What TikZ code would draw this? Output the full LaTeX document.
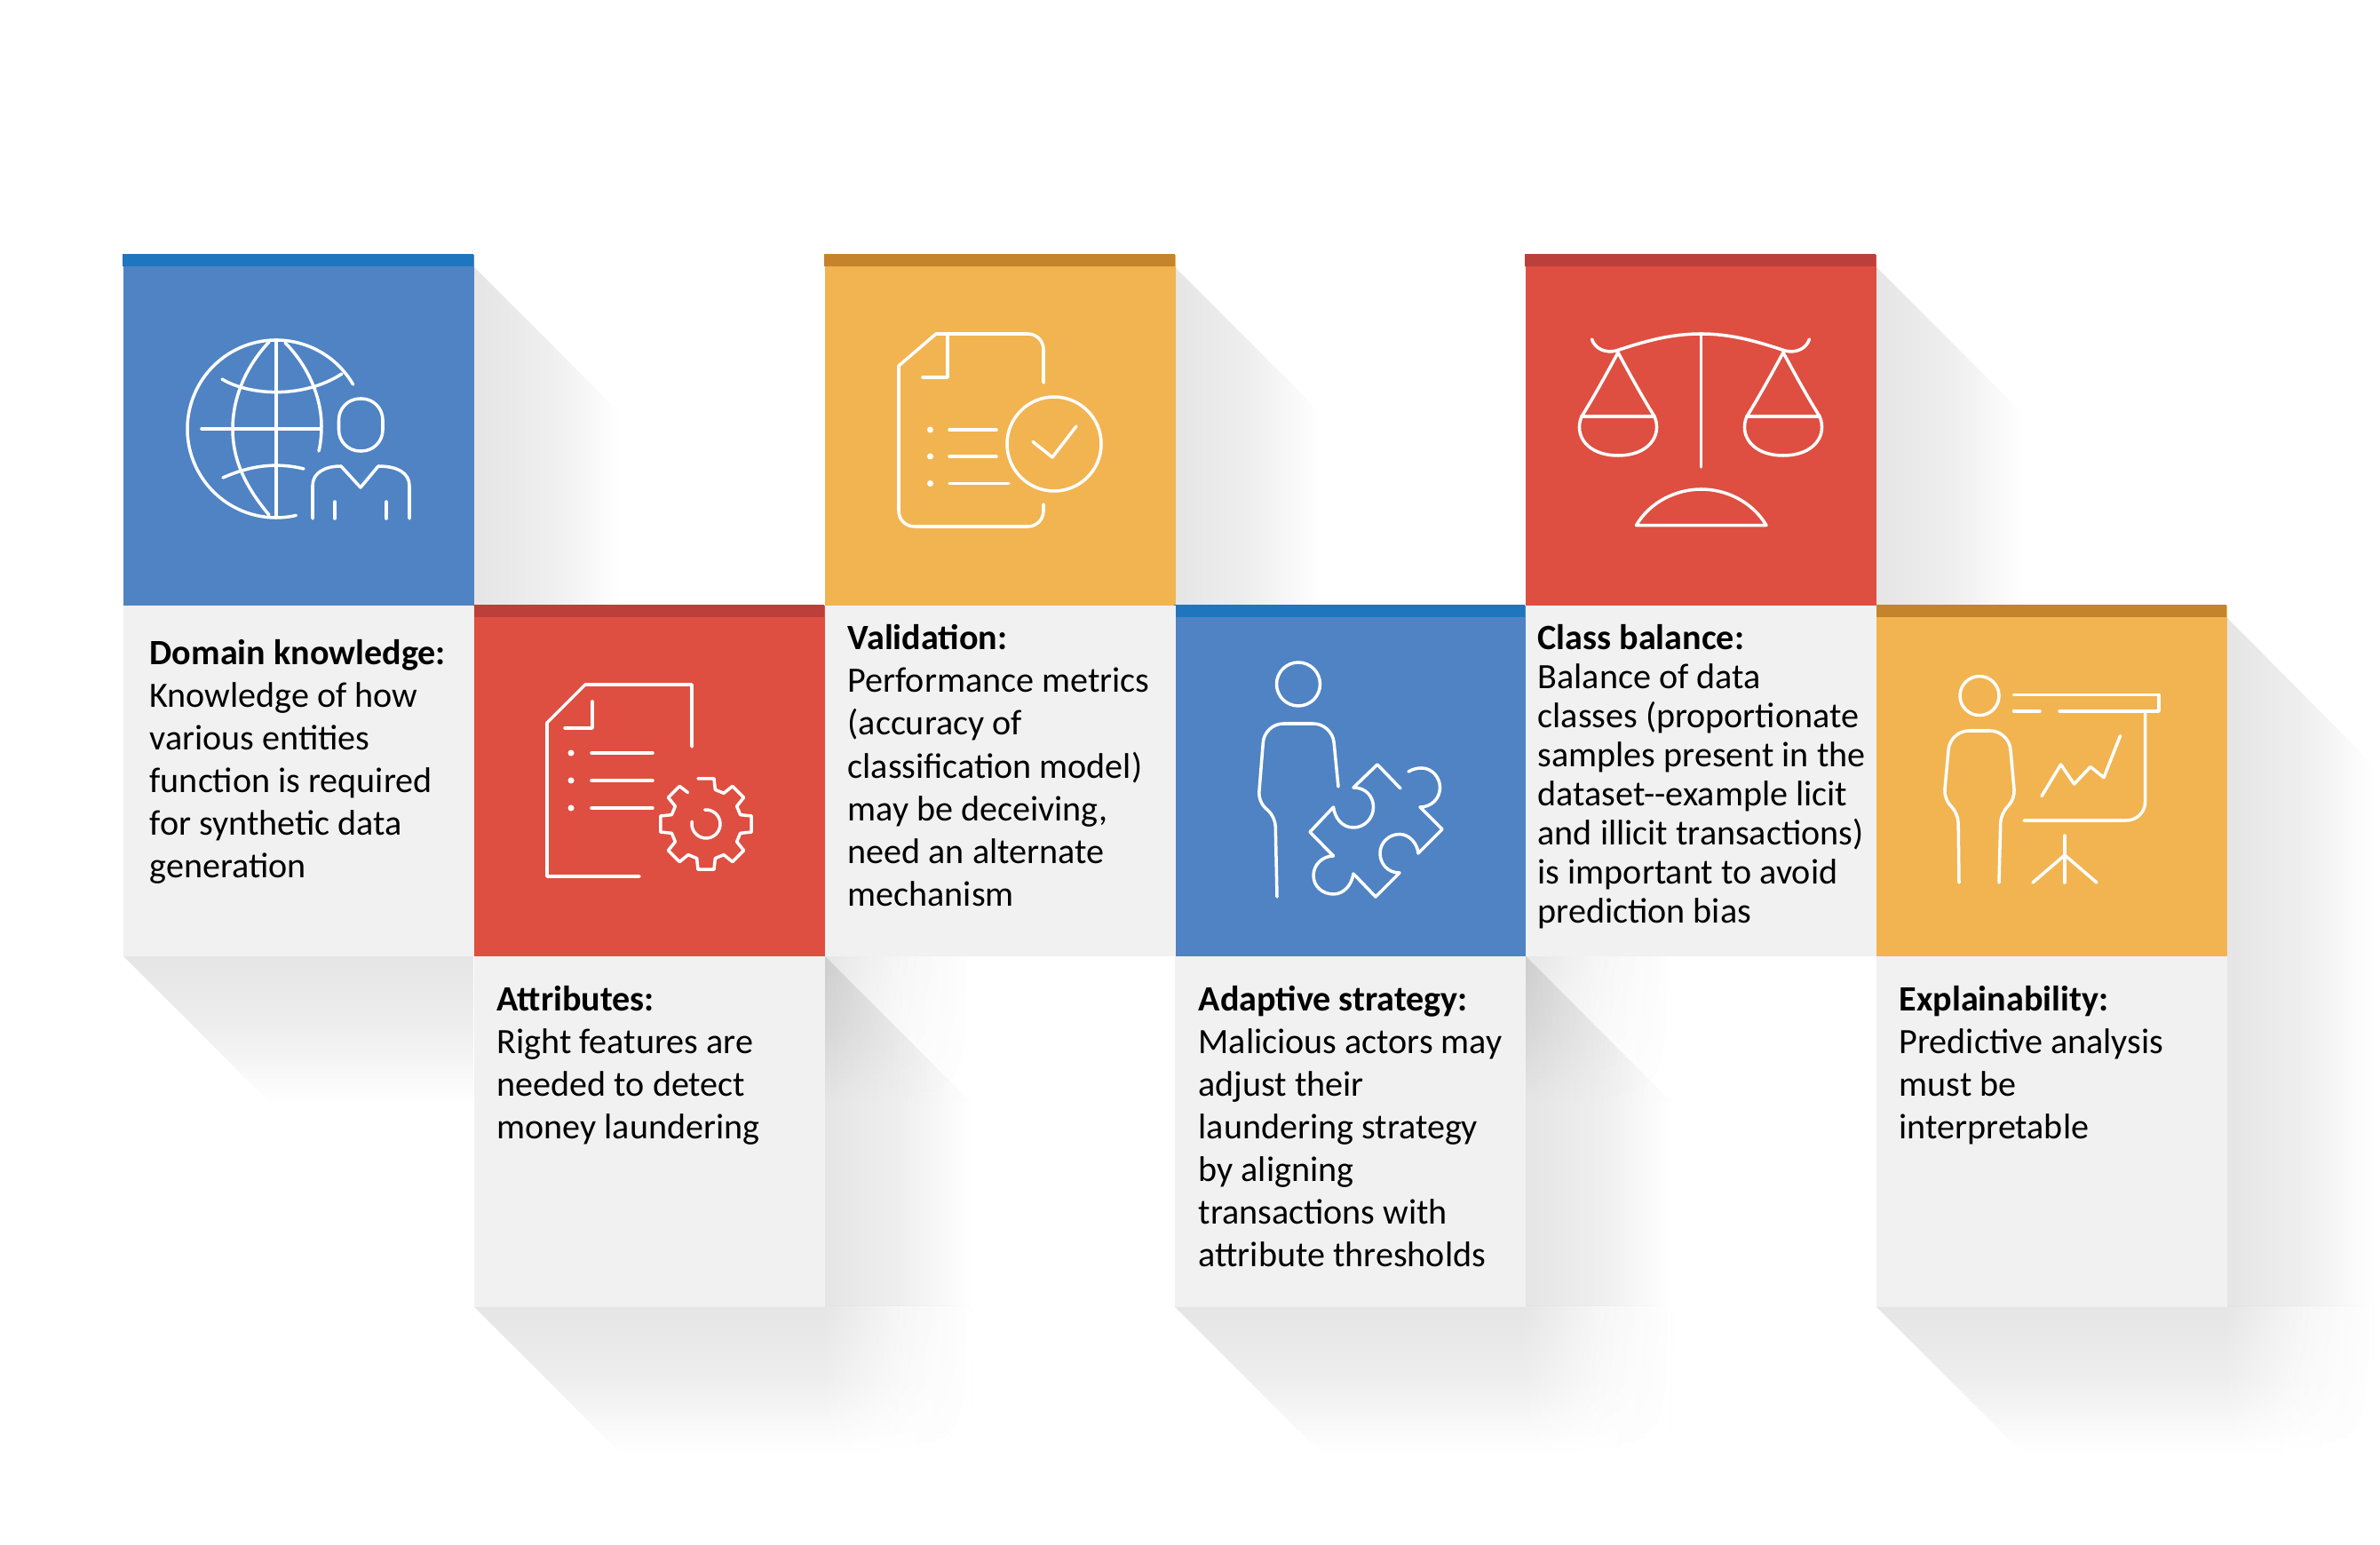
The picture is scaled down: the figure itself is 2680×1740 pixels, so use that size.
\documentclass[tikz,border=0pt]{standalone}
\usepackage{fontspec}
\setmainfont{Carlito}
\usetikzlibrary{fadings}
\definecolor{blueTile}{HTML}{4F83C4}
\definecolor{blueStrip}{HTML}{1F76BF}
\definecolor{redTile}{HTML}{DE4F41}
\definecolor{redStrip}{HTML}{BC3F3B}
\definecolor{yellowTile}{HTML}{F1B451}
\definecolor{yellowStrip}{HTML}{C5832B}
\definecolor{boxcol}{HTML}{F1F1F1}
\definecolor{rampMid}{gray}{0.65}
\pgfdeclarehorizontalshading{rampE}{100bp}{color(0bp)=(white); color(25bp)=(white); color(50bp)=(rampMid); color(75bp)=(black); color(100bp)=(black)}
\pgfdeclarehorizontalshading{rampW}{100bp}{color(0bp)=(black); color(25bp)=(black); color(50bp)=(rampMid); color(75bp)=(white); color(100bp)=(white)}
\pgfdeclareverticalshading{rampS}{100bp}{color(0bp)=(black); color(25bp)=(black); color(50bp)=(rampMid); color(75bp)=(white); color(100bp)=(white)}
\pgfdeclarefading{fadeE}{\pgfuseshading{rampE}}
\pgfdeclarefading{fadeW}{\pgfuseshading{rampW}}
\pgfdeclarefading{fadeS}{\pgfuseshading{rampS}}
\tikzstyle{tile}=[rectangle,minimum size=3.95cm,inner sep=0,anchor=north west]
\tikzstyle{info box}=[tile,fill=boxcol]
\tikzstyle{shadow east}=[black,fill opacity=0.1,path fading=fadeE]
\tikzstyle{shadow south}=[black,fill opacity=0.1,path fading=fadeS]
\tikzstyle{shadow cover}=[white,path fading=fadeE]
\tikzstyle{icon}=[white,line width=1pt,line cap=round,line join=round]
\tikzstyle{info}=[inner sep=0,anchor=north west,align=left,text=black,
font=\fontsize{11.4}{13.66}\selectfont]
\tikzstyle{info tight}=[info,font=\fontsize{11.4}{12.5}\selectfont]
\begin{document}
\begin{tikzpicture}[x=0.01cm,y=0.01cm]
  \useasboundingbox (0,0) rectangle (2680,-1740);
  \def\D{165}

  % SHADOWS
  \foreach \X in {533,1322,2112}{
    \fill[shadow east] (\X,-300) --++ (\D,-\D) -- (\X+\D,-681) -- (\X,-681) -- cycle;
  }
  \fill[shadow south] (138,-1076) --++ (\D,-\D) -- (533,-1241) -- (533,-1076) -- cycle;
  \foreach \X in {928,1717}{
    \fill[shadow south,path fading=fadeS] (\X,-1076) rectangle (\X+\D,-1241);
    \fill[white,path fading=fadeW] (\X,-1076) rectangle (\X+\D,-1241);
  }
  \foreach \X in {533,1322,2112}{
    \fill[shadow south] (\X,-1471) --++ (\D,-\D) -- (\X+395+\D,-1636) -- (\X+395+\D,-1471) -- cycle;
    \fill[white,path fading=fadeW] (\X+395,-1471) rectangle (\X+395+\D,-1637);
  }
  \foreach \X in {928,1717}{
    \fill[shadow east] (\X,-1076) --++ (\D,-\D) -- (\X+\D,-1471) -- (\X,-1471) -- cycle;
  }
  \fill[shadow east] (2507,-695) -- (2672,-861) -- (2672,-1471) -- (2507,-1471) -- cycle;

  % TILES
  \node[tile,fill=blueTile] (domainTile) at (138,-286) {};
  \node[tile,fill=yellowTile] (validTile) at (928,-286) {};
  \node[tile,fill=redTile] (classTile) at (1717,-286) {};
  \node[tile,fill=redTile] (attrTile) at (533,-681) {};
  \node[tile,fill=blueTile] (adaptTile) at (1322,-681) {};
  \node[tile,fill=yellowTile] (explainTile) at (2112,-681) {};
  \fill[blueStrip] (domainTile.north west) rectangle ++(395,-14);
  \fill[yellowStrip] (validTile.north west) rectangle ++(395,-14);
  \fill[redStrip] (classTile.north west) rectangle ++(395,-14);
  \fill[redStrip] (attrTile.north west) rectangle ++(395,-14);
  \fill[blueStrip] (adaptTile.north west) rectangle ++(395,-14);
  \fill[yellowStrip] (explainTile.north west) rectangle ++(395,-14);

  % BOXES
  \node[info box] (domainBox) at (138,-681) {};
  \node[info box] (validBox) at (928,-681) {};
  \node[info box] (classBox) at (1717,-681) {};
  \node[info box] (attrBox) at (533,-1076) {};
  \node[info box] (adaptBox) at (1322,-1076) {};
  \node[info box] (explainBox) at (2112,-1076) {};

  % TEXTS
  \node[info] (domainText) at (168,-719.5) {\textbf{Domain knowledge:}\\Knowledge of how\\various entities\\function is required\\for synthetic data\\generation};
  \node[info] (validText) at (954,-703) {\textbf{Validation:}\\Performance metrics\\(accuracy of\\classification model)\\may be deceiving,\\need an alternate\\mechanism};
  \node[info tight] (classText) at (1731,-703) {\textbf{Class balance:}\\Balance of data\\classes (proportionate\\samples present in the\\dataset{-}{-}example licit\\and illicit transactions)\\is important to avoid\\prediction bias};
  \node[info] (attrText) at (559,-1109.5) {\textbf{Attributes:}\\Right features are\\needed to detect\\money laundering};
  \node[info] (adaptText) at (1349,-1109.5) {\textbf{Adaptive strategy:}\\Malicious actors may\\adjust their\\laundering strategy\\by aligning\\transactions with\\attribute thresholds};
  \node[info] (explainText) at (2138,-1109.5) {\textbf{Explainability:}\\Predictive analysis\\must be\\interpretable};

  % GLOBE AND PERSON
  \draw[icon] (311,-483) ++(30:100) arc[start angle=30,end angle=283,radius=100];
  \draw[icon] (311,-383) -- (311,-583);
  \draw[icon] (227,-483) -- (360,-483);
  \draw[icon] (303,-385) .. controls (275,-415) and (262,-450) .. (262,-483)
    .. controls (262,-520) and (278,-550) .. (303,-580);
  \draw[icon] (321,-386) .. controls (345,-410) and (362,-445) .. (362,-480)
    .. controls (362,-490) and (361,-500) .. (359,-508);
  \draw[icon] (250,-427) .. controls (280,-445) and (340,-450) .. (385,-421);
  \draw[icon] (251,-538) .. controls (280,-525) and (310,-520) .. (342,-528);
  \draw[icon,rounded corners=6.8pt] (381.5,-449) rectangle (431,-508);
  \draw[icon] (352,-584) -- (352,-547) .. controls (352,-533) and (365,-525) .. (384,-525)
    -- (406,-549) -- (426,-525) .. controls (448,-525) and (461,-533) .. (461,-547) -- (461,-584);
  \draw[icon] (377,-565) -- (377,-584);
  \draw[icon] (435,-565) -- (435,-584);

  % DOCUMENT AND GEAR
  \draw[icon] (779,-841) -- (779,-771) -- (659,-771) -- (616,-814) -- (616,-987) -- (720,-987);
  \draw[icon] (667,-790) -- (667,-820) -- (636,-820);
  \foreach \y in {848,879,910}{
    \fill[white,rounded corners=1pt] (639.5,-\y+3.5) rectangle ++(7,-7);
    \draw[icon] (666,-\y) -- (735,-\y);
  }
  \begin{scope}[shift={(795,-928)}]
    \draw[icon] (100:52) \foreach \a in {90,45,...,-180}{
      -- (\a-10:52) -- (\a-15:40) -- (\a-30:40) -- (\a-35:52)} -- (-235:52) -- (-240:41);
    \draw[icon] (95:16) arc[start angle=95,end angle=-190,radius=16];
  \end{scope}

  % DOCUMENT AND CHECK
  \draw[icon] (1175,-431) [rounded corners=5pt] -- (1175,-376) [sharp corners] -- (1054,-376)
    -- (1012,-412) [rounded corners=5pt] -- (1012,-593) -- (1175,-593) -- (1175,-568);
  \draw[icon] (1067,-377) -- (1067,-425) -- (1039,-425);
  \foreach \y/\e in {484/1122,514/1122,544.5/1136}{
    \fill[white,rounded corners=1pt] (1044,-\y+3.5) rectangle ++(7,-7);
    \draw[icon] (1069,-\y) -- (\e,-\y);
  }
  \draw[icon] (1187,-500) circle[radius=53];
  \draw[icon] (1163,-497.5) -- (1185,-515) -- (1212,-480);

  % PERSON AND PUZZLE
  \draw[icon] (1462,-770.5) circle[radius=24.5];
  \draw[icon] (1507,-886) [rounded corners=6pt] -- (1500,-815) -- (1424,-815)
    [rounded corners=3pt] -- (1417,-903) -- (1436,-920) -- (1438,-1010);
  \draw[icon] (1577,-888) -- (1551,-861) -- (1524,-887)
    .. controls (1538,-887) and (1546.5,-897) .. (1546.5,-909)
    .. controls (1546.5,-922) and (1536,-932) .. (1524,-932)
    .. controls (1511,-932) and (1503,-921) .. (1501.5,-909)
    -- (1475,-937) -- (1501.5,-964)
    .. controls (1489,-964) and (1479,-974) .. (1479,-986)
    .. controls (1479,-998) and (1489,-1007) .. (1501.5,-1007)
    .. controls (1513,-1007) and (1522,-997) .. (1524,-984)
    -- (1549,-1010) -- (1576,-983)
    .. controls (1562,-983) and (1554,-972) .. (1554,-961)
    .. controls (1554,-949) and (1564,-939.5) .. (1576,-939.5)
    .. controls (1587,-939.5) and (1596,-950) .. (1597,-961)
    -- (1624,-934) -- (1599,-909)
    .. controls (1612,-909) and (1621.5,-899) .. (1621.5,-887)
    .. controls (1621.5,-875) and (1612,-865) .. (1601,-865)
    .. controls (1596,-865) and (1591,-866) .. (1586,-869);

  % SCALES
  \draw[icon] (1915.6,-377) -- (1915.6,-526);
  \draw[icon] (1792.5,-382) .. controls (1796,-393) and (1808,-398) .. (1820,-395)
    .. controls (1850,-385) and (1880,-376) .. (1915.6,-376)
    .. controls (1950,-376) and (1980,-385) .. (2010,-395)
    .. controls (2022,-398) and (2034,-393) .. (2037.5,-382);
  \foreach \x in {1822,2008}{
    \draw[icon] (\x,-397) .. controls (\x-15,-425) and (\x-32,-455) .. (\x-41,-469)
      .. controls (\x-50,-490) and (\x-35,-513) .. (\x,-513)
      .. controls (\x+35,-513) and (\x+50,-490) .. (\x+41,-469)
      .. controls (\x+32,-455) and (\x+15,-425) .. (\x,-397);
    \draw[icon] (\x-41,-469) -- (\x+41,-469);
  }
  \draw[icon] (1842.5,-591.6) .. controls (1858,-565) and (1888,-551) .. (1915.6,-551)
    .. controls (1944,-551) and (1973,-565) .. (1989,-591.6) -- cycle;

  % PRESENTER
  \draw[icon] (2229,-783.6) circle[radius=22];
  \draw[icon] (2206,-994) [rounded corners=3pt] -- (2205,-916) -- (2189,-900)
    [rounded corners=6pt] -- (2196,-823) -- (2262,-823)
    [rounded corners=3pt] -- (2269,-900) -- (2253,-916) -- (2251,-994);
  \draw[icon] (2267.5,-782.6) -- (2431,-782.6) -- (2431,-801) -- (2319,-801);
  \draw[icon] (2267.5,-801) -- (2297,-801);
  \draw[icon,rounded corners=6pt] (2415.6,-801) -- (2415.6,-924) -- (2279,-924);
  \draw[icon] (2299,-896.6) -- (2320.6,-861) -- (2335.6,-883) -- (2354,-863.6) -- (2369,-875.7) -- (2387.5,-828.6);
  \draw[icon] (2325,-941) -- (2325,-994);
  \draw[icon] (2289,-994) -- (2325,-963) -- (2361,-994);
\end{tikzpicture}
\end{document}
